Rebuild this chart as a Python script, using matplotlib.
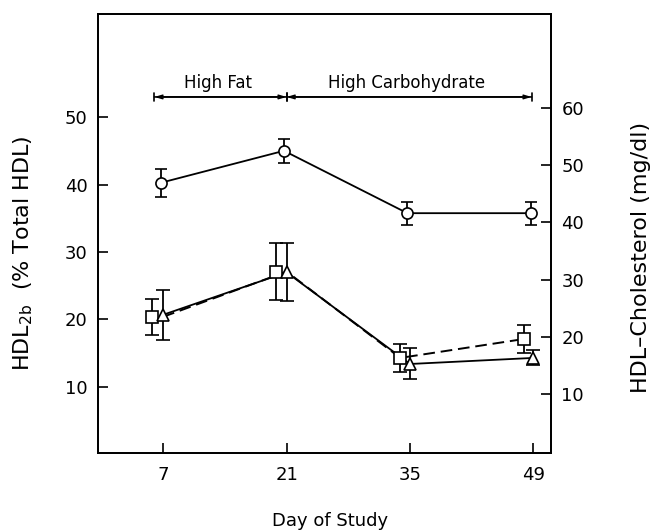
import matplotlib.pyplot as plt
import numpy as np

plt.rcParams['font.family'] = ['DejaVu Sans']

# data
days = [7, 21, 35, 49]
day_ticks = ['7', '21', '35', '49']

# HDL-cholesterol (mg/dl), right axis, circles
chol = [46.9, 52.5, 41.6, 41.6]
chol_err = [2.4, 2.1, 2.0, 2.0]

# HDL2b (% total HDL), left axis
hdl2b_sq = [20.4, 27.1, 14.3, 17.1]
hdl2b_sq_err = [2.7, 4.2, 2.1, 2.05]
hdl2b_tri = [20.7, 27.0, 13.4, 14.3]
hdl2b_tri_err = [3.7, 4.3, 2.3, 1.1]

left_ticks = [10, 20, 30, 40, 50]
right_ticks = [10, 20, 30, 40, 50, 60]

# diet periods (day from, day to, label)
periods = [(6, 21, 'High Fat'), (21, 48.8, 'High Carbohydrate')]

W, H = 653, 531
fig = plt.figure(figsize=(W / 100, H / 100), dpi=100)
ax = fig.add_axes([98 / W, 1 - 453 / H, (551 - 98) / W, (453 - 14) / H])
ax2 = ax.twinx()

x = np.array(days, dtype=float)
# small horizontal offsets so the symbols don't sit on top of each other
sq_dx = np.array([-1.25, -1.25, -1.1, -1.1])
sq_line_dx = np.array([0, 0, -1.1, -1.1])
circ_dx = -0.3

# squares, dashed
ax.errorbar(x + sq_dx, hdl2b_sq, yerr=hdl2b_sq_err, fmt='s', ms=8, mfc='white',
            mec='black', mew=1.2, ecolor='black', elinewidth=1.3, capsize=5.2,
            capthick=1.3, zorder=3)
ax.plot(x + sq_line_dx, hdl2b_sq, '--', color='black', lw=1.4, dashes=(6, 3), zorder=2)

# triangles, solid
ax.errorbar(x, hdl2b_tri, yerr=hdl2b_tri_err, fmt='^', ms=9, mfc='white',
            mec='black', mew=1.2, ecolor='black', elinewidth=1.3, capsize=4.8,
            capthick=1.3, zorder=3)
ax.plot(x, hdl2b_tri, '-', color='black', lw=1.3, zorder=2)

# circles on right axis
ax2.errorbar(x + circ_dx, chol, yerr=chol_err, fmt='o', ms=8, mfc='white',
             mec='black', mew=1.2, ecolor='black', elinewidth=1.3, capsize=4.6,
             capthick=1.3, zorder=3)
ax2.plot(x + circ_dx, chol, '-', color='black', lw=1.3, zorder=2)

ax.set_xlim(-0.4, 51)
ax.set_ylim(0.2, 65.3)
ax2.set_ylim(-0.3, 76.4)

ax.set_xticks(days)
ax.set_xticklabels(day_ticks)
ax.set_yticks(left_ticks)
ax2.set_yticks(right_ticks)

ax.tick_params(axis='both', direction='in', length=7, width=1.2, labelsize=13, pad=7.5)
ax.tick_params(axis='x', pad=9)
ax2.tick_params(axis='y', direction='in', length=7, width=1.2, labelsize=13, pad=7.5)

for a in (ax, ax2):
    for s in a.spines.values():
        s.set_linewidth(1.3)

fig.text(330 / W, 1 - 526 / H, 'Day of Study', ha='center', va='baseline', fontsize=13)
fig.text(23 / W, 1 - 253 / H, 'HDL$_{\\mathregular{2b}}$  (% Total HDL)', ha='center',
         va='center', rotation=90, fontsize=16)
fig.text(641 / W, 1 - 257 / H, 'HDL\u2013Cholesterol (mg/dl)', ha='center', va='center',
         rotation=90, fontsize=16)

# diet period bars
bar_y = 53
for d0, d1, lab in periods:
    ax.annotate('', xy=(d0, bar_y), xytext=(d1, bar_y),
                arrowprops=dict(arrowstyle='<->, head_length=0.4, head_width=0.12',
                                color='black', lw=1.2, shrinkA=0, shrinkB=0))
    ax.annotate('', xy=(d0, bar_y), xytext=(d1, bar_y),
                arrowprops=dict(arrowstyle='|-|, widthA=0.3, widthB=0.3',
                                color='black', lw=1.2, shrinkA=0, shrinkB=0))
    ax.text((d0 + d1) / 2 - 0.3, 54.3, lab, ha='center', va='baseline', fontsize=12)

fig.savefig('out.png', dpi=100)
